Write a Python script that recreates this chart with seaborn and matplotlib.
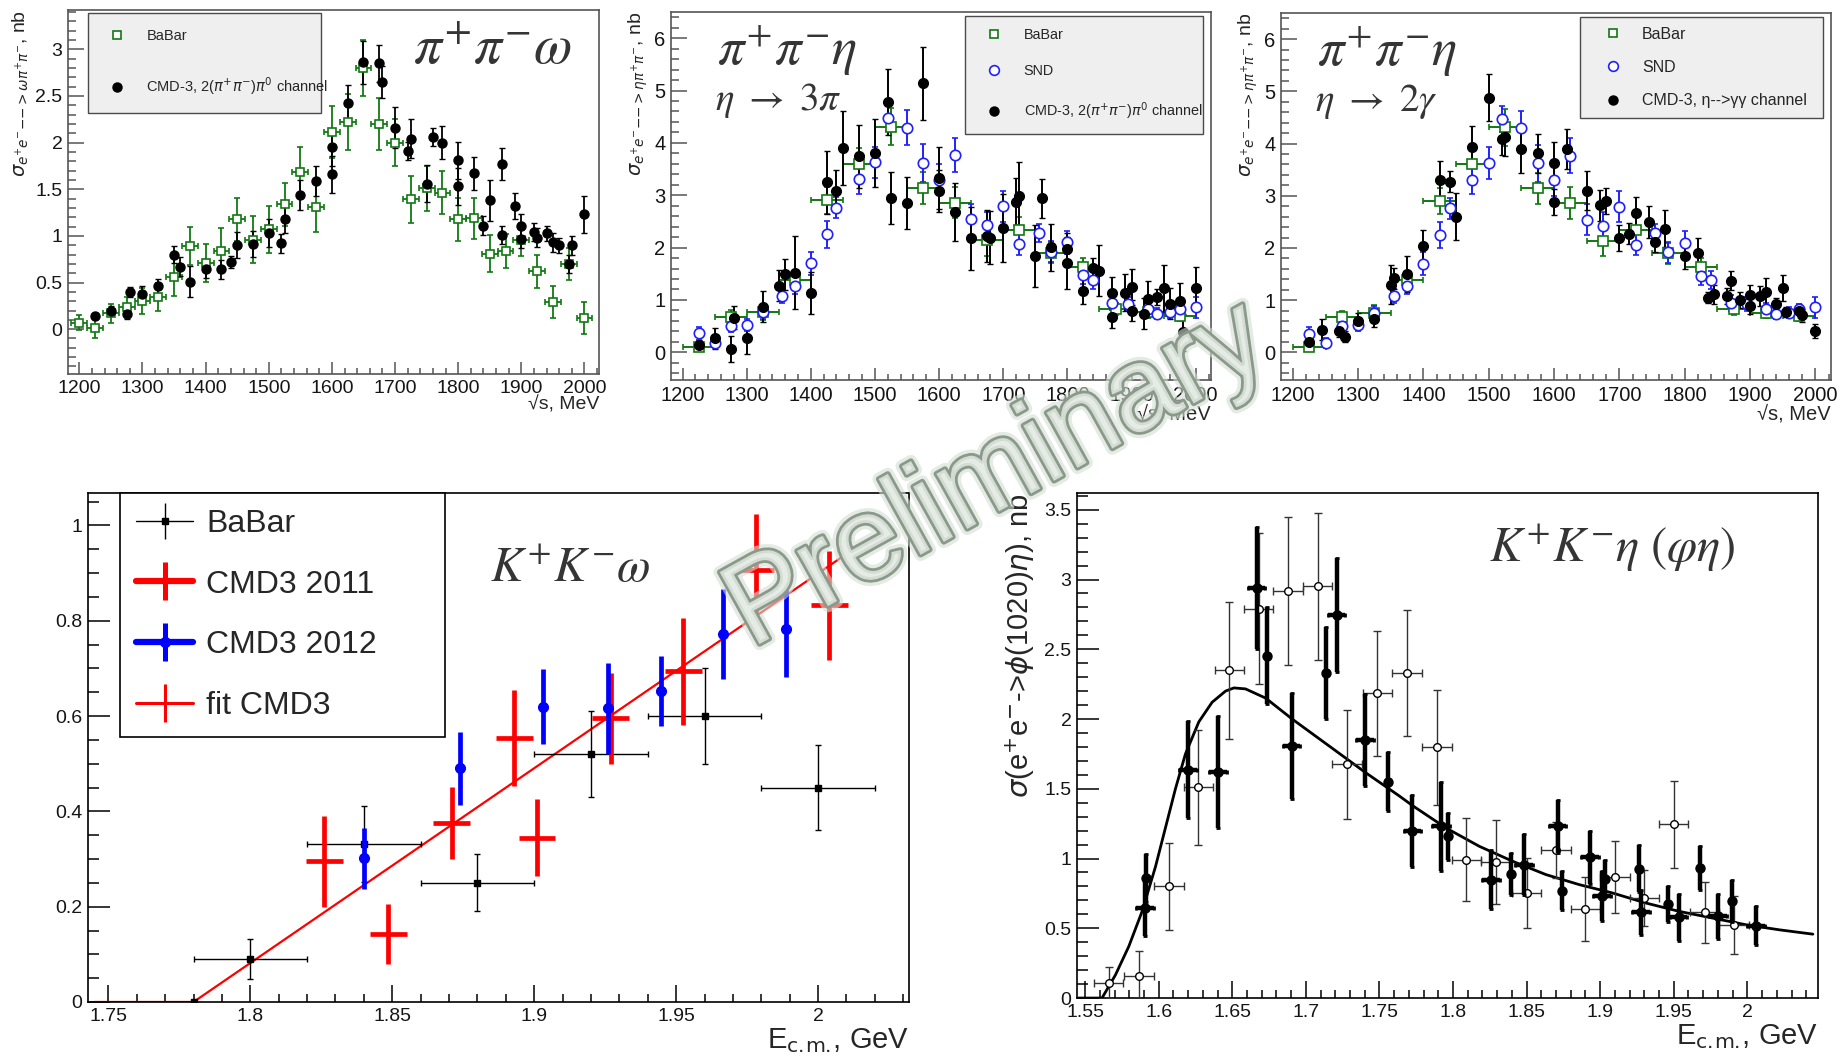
import pandas as pd
import seaborn as sns
import matplotlib.pyplot as plt
import matplotlib.patheffects as pe
from matplotlib.lines import Line2D
from matplotlib.ticker import MultipleLocator, FuncFormatter

# --- pi+ pi- omega (top left) ---
omega_babar_e = [1200, 1225, 1250, 1275, 1300, 1325, 1350, 1375, 1400, 1425, 1450, 1475, 1500, 1525, 1550, 1575, 1600,
                 1625, 1650, 1675, 1700, 1725, 1750, 1775, 1800, 1825, 1850, 1875, 1900, 1925, 1950, 1975, 2000]
omega_babar_s = [0.07, 0.01, 0.17, 0.24, 0.30, 0.34, 0.56, 0.89, 0.71, 0.84, 1.18, 0.96, 1.07, 1.34, 1.68, 1.31, 2.11,
                 2.22, 2.80, 2.20, 2.00, 1.39, 1.51, 1.46, 1.18, 1.19, 0.81, 0.84, 0.96, 0.62, 0.29, 0.70, 0.12]
omega_babar_err = [0.08, 0.1, 0.1, 0.1, 0.14, 0.15, 0.2, 0.2, 0.2, 0.24, 0.23, 0.25, 0.25, 0.23, 0.27, 0.27, 0.28,
                   0.3, 0.3, 0.28, 0.25, 0.25, 0.24, 0.23, 0.23, 0.22, 0.2, 0.18, 0.18, 0.18, 0.17, 0.17, 0.17]

cmd_e = [1225, 1250, 1275, 1280, 1300, 1325, 1350, 1360, 1375, 1400, 1425, 1440, 1450, 1475, 1500, 1520, 1525,
         1550, 1575, 1600, 1600, 1625, 1650, 1675, 1680, 1700, 1720, 1725, 1750, 1760, 1775, 1800, 1800, 1825,
         1840, 1850, 1870, 1870, 1890, 1900, 1900, 1920, 1925, 1940, 1950, 1960, 1975, 1980, 2000]
omega_cmd_s = [0.14, 0.20, 0.16, 0.40, 0.38, 0.46, 0.80, 0.67, 0.51, 0.65, 0.64, 0.72, 0.90, 0.91, 1.03, 0.92, 1.18,
               1.44, 1.59, 1.66, 1.95, 2.42, 2.86, 2.85, 2.65, 2.16, 1.91, 2.04, 1.56, 2.06, 2.00, 1.81, 1.53, 1.67,
               1.11, 1.38, 1.77, 1.01, 1.32, 1.11, 0.97, 1.04, 0.98, 1.03, 0.93, 0.90, 0.70, 0.90, 1.23]
omega_cmd_err = [0.03, 0.05, 0.05, 0.05, 0.08, 0.08, 0.09, 0.1, 0.17, 0.1, 0.1, 0.06, 0.14, 0.14, 0.15, 0.1, 0.15,
                 0.16, 0.16, 0.2, 0.2, 0.2, 0.23, 0.2, 0.17, 0.22, 0.1, 0.21, 0.2, 0.1, 0.18, 0.2, 0.2, 0.18,
                 0.1, 0.22, 0.17, 0.1, 0.14, 0.12, 0.1, 0.1, 0.1, 0.08, 0.1, 0.08, 0.1, 0.1, 0.2]

# --- pi+ pi- eta: BaBar and SND (shared by both top right panels) ---
eta_babar_e = [1225, 1275, 1325, 1375, 1425, 1475, 1525, 1575, 1625, 1675, 1725, 1775, 1825, 1875, 1925, 1975]
eta_babar_s = [0.11, 0.68, 0.76, 1.39, 2.90, 3.60, 4.31, 3.14, 2.86, 2.14, 2.34, 1.90, 1.63, 0.83, 0.76, 0.70]
eta_babar_err = [0.05, 0.12, 0.15, 0.15, 0.25, 0.3, 0.35, 0.3, 0.3, 0.3, 0.25, 0.2, 0.18, 0.12, 0.1, 0.1]

snd_e = [1225, 1250, 1275, 1300, 1325, 1355, 1375, 1400, 1425, 1440, 1475, 1500, 1520, 1550, 1575, 1600, 1625,
         1650, 1675, 1700, 1725, 1755, 1775, 1800, 1825, 1840, 1870, 1895, 1925, 1940, 1960, 1975, 2000]
snd_s = [0.36, 0.18, 0.50, 0.52, 0.76, 1.08, 1.27, 1.70, 2.25, 2.76, 3.31, 3.63, 4.47, 4.29, 3.62, 3.30, 3.77,
         2.54, 2.43, 2.79, 2.06, 2.28, 1.92, 2.10, 1.47, 1.38, 0.95, 0.93, 0.83, 0.74, 0.76, 0.83, 0.86]
snd_err = [0.12, 0.1, 0.12, 0.12, 0.12, 0.13, 0.15, 0.22, 0.25, 0.2, 0.28, 0.3, 0.25, 0.33, 0.36, 0.3, 0.33,
           0.3, 0.25, 0.3, 0.2, 0.18, 0.2, 0.22, 0.17, 0.17, 0.15, 0.13, 0.12, 0.1, 0.1, 0.1, 0.2]

# CMD-3, eta -> 3pi
eta3pi_s = [0.14, 0.27, 0.06, 0.66, 0.27, 0.87, 1.27, 1.49, 1.52, 1.14, 3.25, 3.09, 3.90, 3.74, 3.81, 4.79, 2.95,
            2.85, 5.14, 3.33, 3.08, 2.68, 2.18, 2.22, 2.19, 2.38, 2.88, 2.98, 1.84, 2.94, 2.01, 1.97, 1.70, 1.17,
            1.61, 1.56, 1.14, 0.67, 1.14, 1.25, 0.79, 0.74, 1.02, 1.05, 1.22, 0.93, 0.98, 0.38, 1.22]
eta3pi_err = [0.1, 0.2, 0.25, 0.22, 0.3, 0.3, 0.3, 0.3, 0.7, 0.4, 0.6, 0.4, 0.7, 0.6, 0.65, 0.63, 0.5,
              0.5, 0.7, 0.6, 0.4, 0.55, 0.6, 0.5, 0.5, 0.65, 0.45, 0.65, 0.6, 0.37, 0.45, 0.3, 0.5, 0.25,
              0.2, 0.48, 0.3, 0.2, 0.35, 0.35, 0.2, 0.3, 0.35, 0.15, 0.45, 0.3, 0.35, 0.35, 0.4]

# CMD-3, eta -> gamma gamma
eta2g_e = [1225, 1245, 1270, 1280, 1300, 1325, 1350, 1355, 1375, 1400, 1425, 1440, 1450, 1475, 1500, 1520,
           1525, 1550, 1575, 1600, 1600, 1620, 1650, 1670, 1680, 1700, 1715, 1725, 1745, 1755, 1770, 1800,
           1820, 1835, 1845, 1870, 1865, 1885, 1900, 1900, 1915, 1925, 1940, 1950, 1955, 1975, 1980, 2000]
eta2g_s = [0.19, 0.43, 0.40, 0.30, 0.61, 0.64, 1.30, 1.42, 1.50, 2.04, 3.31, 3.27, 2.60, 3.94, 4.88, 4.08,
           4.12, 3.89, 3.81, 2.88, 3.63, 3.89, 3.10, 2.82, 2.90, 2.19, 2.27, 2.67, 2.50, 2.12, 2.37, 1.84,
           1.90, 1.05, 1.11, 1.37, 1.08, 1.00, 1.10, 0.89, 1.08, 1.15, 0.93, 1.24, 0.77, 0.80, 0.71, 0.41]
eta2g_err = [0.05, 0.2, 0.1, 0.1, 0.15, 0.15, 0.38, 0.2, 0.35, 0.3, 0.35, 0.2, 0.45, 0.4, 0.45, 0.3,
             0.35, 0.45, 0.37, 0.25, 0.4, 0.38, 0.37, 0.3, 0.25, 0.25, 0.2, 0.3, 0.3, 0.2, 0.35, 0.25,
             0.3, 0.1, 0.18, 0.18, 0.15, 0.15, 0.2, 0.15, 0.2, 0.27, 0.12, 0.25, 0.1, 0.13, 0.13, 0.13]

# --- K+ K- omega (bottom left) ---
kkw_babar_e = [1.78, 1.80, 1.84, 1.88, 1.92, 1.96, 2.00]
kkw_babar_s = [0.0, 0.091, 0.331, 0.25, 0.52, 0.60, 0.45]
kkw_babar_err = [0.0, 0.042, 0.08, 0.06, 0.09, 0.10, 0.09]
kkw_babar_xerr = [0.0, 0.02, 0.02, 0.02, 0.02, 0.02, 0.02]
kkw_2011_e = [1.826, 1.8486, 1.871, 1.893, 1.901, 1.927, 1.9525, 1.978, 2.004]
kkw_2011_s = [0.295, 0.143, 0.376, 0.554, 0.345, 0.595, 0.694, 0.906, 0.832]
kkw_2011_err = [0.095, 0.063, 0.076, 0.10, 0.08, 0.096, 0.112, 0.117, 0.115]
kkw_2012_e = [1.840, 1.874, 1.903, 1.926, 1.9446, 1.9665, 1.9886]
kkw_2012_s = [0.302, 0.49, 0.62, 0.616, 0.653, 0.772, 0.782]
kkw_2012_err = [0.064, 0.077, 0.078, 0.096, 0.073, 0.094, 0.10]
kkw_fit_e = [1.745, 1.78, 2.008]
kkw_fit_s = [0.0, 0.0, 0.932]

# --- K+ K- eta (phi eta) (bottom right) ---
kke_babar_e = [1.566, 1.5865, 1.607, 1.627, 1.648, 1.668, 1.688, 1.708, 1.728, 1.7486, 1.7686, 1.789, 1.809,
               1.829, 1.850, 1.870, 1.890, 1.910, 1.930, 1.950, 1.971, 1.991]
kke_babar_s = [0.11, 0.158, 0.80, 1.51, 2.35, 2.79, 2.92, 2.95, 1.676, 2.184, 2.328, 1.796, 0.993,
               0.973, 0.753, 1.06, 0.64, 0.868, 0.717, 1.245, 0.614, 0.525]
kke_babar_err = [0.11, 0.18, 0.31, 0.41, 0.49, 0.54, 0.53, 0.53, 0.39, 0.45, 0.45, 0.41, 0.30,
                 0.30, 0.25, 0.2, 0.23, 0.26, 0.2, 0.31, 0.22, 0.21]
kke_cmd_a_e = [1.5906, 1.6199, 1.6403, 1.6665, 1.6903, 1.7209, 1.74, 1.7724, 1.7917, 1.826, 1.8484, 1.871,
               1.893, 1.9012, 1.9277, 1.9533, 1.9799, 2.006]
kke_cmd_a_s = [0.645, 1.637, 1.62, 2.94, 1.81, 2.745, 1.851, 1.196, 1.232, 0.849, 0.957, 1.232,
               1.009, 0.729, 0.614, 0.578, 0.585, 0.52]
kke_cmd_a_err = [0.2, 0.35, 0.4, 0.44, 0.38, 0.41, 0.33, 0.26, 0.32, 0.21, 0.22, 0.19,
                 0.19, 0.18, 0.16, 0.17, 0.16, 0.14]
kke_cmd_b_e = [1.5914, 1.6735, 1.7139, 1.756, 1.7969, 1.8397, 1.874, 1.9035, 1.9266, 1.9458, 1.9679, 1.9897]
kke_cmd_b_s = [0.86, 2.455, 2.328, 1.551, 1.16, 0.889, 0.77, 0.856, 0.928, 0.674, 0.933, 0.693]
kke_cmd_b_err = [0.17, 0.35, 0.33, 0.21, 0.17, 0.15, 0.14, 0.13, 0.17, 0.13, 0.16, 0.15]
kke_fit_e = [1.545, 1.5615, 1.5706, 1.5797, 1.5887, 1.5978, 1.6046, 1.6114, 1.6182, 1.6273, 1.6363, 1.6454,
             1.6511, 1.659, 1.6727, 1.6907, 1.718, 1.7407, 1.7633, 1.7724, 1.7951, 1.8178, 1.8404, 1.8631,
             1.8858, 1.9084, 1.9311, 1.9538, 1.9765, 1.9992, 2.0218, 2.0445]
kke_fit_s = [0.0, 0.0, 0.165, 0.37, 0.62, 0.94, 1.22, 1.50, 1.75, 1.98, 2.12, 2.20,
             2.223, 2.216, 2.15, 2.0, 1.79, 1.615, 1.45, 1.38, 1.22, 1.088, 0.981, 0.885,
             0.813, 0.753, 0.681, 0.621, 0.573, 0.525, 0.489, 0.458]

sns.set_theme(style='ticks')
plt.rcParams['font.family'] = ['Liberation Sans', 'DejaVu Sans']
plt.rcParams['mathtext.fontset'] = 'dejavusans'

GREEN = '#127812'
BLUE = '#2020ff'
fig = plt.figure(figsize=(18.47, 10.63), dpi=100)
fmt_g = FuncFormatter(lambda v, p: '0' if abs(v) < 1e-9 else f'{round(v, 6):g}')


def root_axes(rect, xlim, ylim, xstep, ystep, xlen, ylen, frame, size):
    ax = fig.add_axes(rect)
    ax.set_xlim(xlim)
    ax.set_ylim(ylim)
    ax.xaxis.set_major_locator(MultipleLocator(xstep[0]))
    ax.xaxis.set_minor_locator(MultipleLocator(xstep[1]))
    ax.yaxis.set_major_locator(MultipleLocator(ystep[0]))
    ax.yaxis.set_minor_locator(MultipleLocator(ystep[1]))
    ax.xaxis.set_major_formatter(fmt_g)
    ax.yaxis.set_major_formatter(fmt_g)
    ax.tick_params(which='both', direction='in', top=False, right=False, color=frame,
                   labelcolor='#151515', labelsize=size, width=1.1, pad=4)
    ax.tick_params(axis='x', which='major', length=xlen)
    ax.tick_params(axis='x', which='minor', length=xlen * 0.5)
    ax.tick_params(axis='y', which='major', length=ylen)
    ax.tick_params(axis='y', which='minor', length=ylen * 0.5)
    for sp in ax.spines.values():
        sp.set_visible(True)
        sp.set_color(frame)
        sp.set_linewidth(1.2)
    return ax


def small_legend(ax, handles, labels, bbox, fs, spacing, pad, hlen, tpad):
    leg = ax.legend(handles, labels, loc='upper left', bbox_to_anchor=bbox, mode='expand',
                    borderaxespad=0, fontsize=fs, labelspacing=spacing, borderpad=pad,
                    handlelength=hlen, handletextpad=tpad, fancybox=False, framealpha=1,
                    facecolor='#efefef', edgecolor='#4a4a4a')
    leg.get_frame().set_linewidth(1.0)
    return leg


sq = dict(ls='none', marker='s', mfc='white', mec=GREEN, ms=6, mew=1.2)
cir = dict(ls='none', marker='o', mfc='white', mec=BLUE, ms=7, mew=1.2)
dot = dict(ls='none', marker='o', color='black', ms=6.5)
ecm_label = r'E$_{\mathrm{c.\!m.\!}}$, GeV'

# ---------------- panel 1 ----------------
ax1 = root_axes([0.0368, 0.6482, 0.2875, 0.3424], (1182, 2023), (-0.48, 3.42), (100, 20), (0.5, 0.1),
                8.5, 11.5, '#555555', 14)
ax1.errorbar(omega_babar_e, omega_babar_s, yerr=omega_babar_err, xerr=12.5, fmt='s', color=GREEN, mfc='white',
             mec=GREEN, ms=6, mew=1.2, elinewidth=1.3, capsize=2)
ax1.errorbar(cmd_e, omega_cmd_s, yerr=omega_cmd_err, fmt='o', color='black', ms=6.5, elinewidth=1.3, capsize=2)
ax1.set_xlabel('√s, MeV', loc='right', fontsize=14, labelpad=0)
ax1.set_ylabel(r'$\sigma_{e^{+}e^{-}{-}{-}{>}\omega\pi^{+}\pi^{-}}$, nb', loc='top', fontsize=14, labelpad=3)
ax1.text(0.80, 0.89, r'$\pi^{+}\pi^{-}\omega$', transform=ax1.transAxes, ha='center', va='center',
         fontsize=40, color='#353535', math_fontfamily='stix')
small_legend(ax1, [Line2D([], [], **sq), Line2D([], [], **dot)],
             ['BaBar', r'CMD-3, 2($\pi^{+}\pi^{-}$)$\pi^{0}$ channel'],
             (0.038, 0.992, 0.438, 0), 10.5, 2.2, 1.1, 1.8, 1.1)

# ---------------- panels 2 and 3 ----------------
eta_panels = [
    ([0.3633, 0.6425, 0.2924, 0.3462], eta3pi_s, eta3pi_err, cmd_e, r'$\eta\ \rightarrow\ 3\pi$',
     r'CMD-3, 2($\pi^{+}\pi^{-}$)$\pi^{0}$ channel', 0.085, 10.4, (1.55, 0.8, 2.4, 0.87)),
    ([0.6936, 0.6425, 0.2978, 0.3452], eta2g_s, eta2g_err, eta2g_e, r'$\eta\ \rightarrow\ 2\gamma$',
     'CMD-3, η-->γγ channel', 0.066, 11.5, (1.15, 0.6, 2.9, 0.35)),
]
for rect, cmd_s, cmd_err, e_vals, decay, cmd_label, tx, lfs, lpar in eta_panels:
    ax = root_axes(rect, (1182, 2024), (-0.53, 6.5), (100, 20), (1, 0.2), 8.5, 11.5, '#555555', 14.5)
    ax.errorbar(eta_babar_e, eta_babar_s, yerr=eta_babar_err, xerr=25, fmt='s', color=GREEN, mfc='white',
                mec=GREEN, ms=7, mew=1.2, elinewidth=1.4, capsize=2)
    ax.errorbar(snd_e, snd_s, yerr=snd_err, fmt='o', color=BLUE, mfc='white', mec=BLUE, ms=7.5, mew=1.2,
                elinewidth=1.4, capsize=2)
    df = pd.DataFrame({'e': e_vals, 's': cmd_s, 'err': cmd_err})
    ax.errorbar(df['e'], df['s'], yerr=df['err'], fmt='o', color='black', ms=7, elinewidth=1.4, capsize=2)
    ax.set_xlabel('√s, MeV', loc='right', fontsize=14.5, labelpad=0)
    ax.set_ylabel(r'$\sigma_{e^{+}e^{-}{-}{-}{>}\eta\pi^{+}\pi^{-}}$, nb', loc='top', fontsize=14, labelpad=3)
    ax.text(tx, 0.895, r'$\pi^{+}\pi^{-}\eta$', transform=ax.transAxes, ha='left', va='center',
            fontsize=38, color='#353535', math_fontfamily='stix')
    ax.text(tx - 0.004, 0.76, decay, transform=ax.transAxes, ha='left', va='center',
            fontsize=28, color='#353535', math_fontfamily='stix')
    small_legend(ax, [Line2D([], [], **sq), Line2D([], [], **cir), Line2D([], [], **dot)],
                 ['BaBar', 'SND', cmd_label], (0.544, 0.989, 0.441, 0), lfs, *lpar)

# ---------------- panel 4 ----------------
ax4 = root_axes([0.0476, 0.0574, 0.4445, 0.4788], (1.7428, 2.032), (0, 1.068), (0.05, 0.01), (0.2, 0.05),
                12, 16, 'black', 14)
sns.lineplot(x=kkw_fit_e, y=kkw_fit_s, ax=ax4, color='red', lw=1.6, zorder=2)
ax4.errorbar(kkw_babar_e, kkw_babar_s, yerr=kkw_babar_err, xerr=kkw_babar_xerr, fmt='s', color='black',
             ms=4.5, elinewidth=1.0, capsize=2, zorder=3)
ax4.errorbar(kkw_2011_e, kkw_2011_s, yerr=kkw_2011_err, xerr=0.0065, fmt='none', ecolor='red',
             elinewidth=3.4, capsize=0, zorder=4)
ax4.errorbar(kkw_2012_e, kkw_2012_s, yerr=kkw_2012_err, fmt='o', color='blue', ms=7,
             elinewidth=3.4, capsize=0, zorder=4)
ax4.set_xlabel(ecm_label, loc='right', fontsize=21, labelpad=1)
ax4.text(0.588, 0.849, r'$K^{+}K^{-}\omega$', transform=ax4.transAxes, ha='center', va='center',
         fontsize=35, color='#353535', math_fontfamily='stix')
h4 = [(Line2D([], [], color='black', lw=1, marker='|', ms=26, mew=1),
       Line2D([], [], ls='none', marker='s', ms=5, color='black')),
      Line2D([], [], color='red', lw=4.5, marker='|', ms=27, mew=3.6),
      (Line2D([], [], color='blue', lw=4.5, marker='|', ms=27, mew=3.6),
       Line2D([], [], ls='none', marker='o', ms=7, color='blue')),
      Line2D([], [], color='red', lw=2.2, marker='|', ms=27, mew=2.2)]
leg4 = ax4.legend(h4, ['BaBar', 'CMD3 2011', 'CMD3 2012', 'fit CMD3'], loc='upper left',
                  bbox_to_anchor=(0.039, 1.0, 0.396, 0), mode='expand', borderaxespad=0, fontsize=23,
                  labelspacing=0.96, borderpad=0.5, handlelength=1.8, handletextpad=0.4,
                  fancybox=False, framealpha=1, facecolor='white', edgecolor='black')
leg4.get_frame().set_linewidth(1.2)

# ---------------- panel 5 ----------------
ax5 = root_axes([0.5831, 0.0611, 0.4012, 0.4751], (1.5445, 2.048), (0, 3.62), (0.05, 0.01), (0.5, 0.1),
                12, 16, 'black', 14)
sns.lineplot(x=kke_fit_e, y=kke_fit_s, ax=ax5, color='black', lw=2.0, zorder=2)
ax5.errorbar(kke_babar_e, kke_babar_s, yerr=kke_babar_err, xerr=0.01, fmt='o', color='#333333', mfc='white',
             mec='black', ms=5.5, mew=1.0, elinewidth=1.0, capsize=3, zorder=3)
ax5.errorbar(kke_cmd_a_e, kke_cmd_a_s, yerr=kke_cmd_a_err, xerr=0.006, fmt='o', color='black', ms=6.5,
             elinewidth=3.2, capsize=1.5, capthick=2, zorder=4)
ax5.errorbar(kke_cmd_b_e, kke_cmd_b_s, yerr=kke_cmd_b_err, fmt='o', color='black', ms=6.5,
             elinewidth=3.2, capsize=1.5, capthick=2, zorder=4)
ax5.set_xlabel(ecm_label, loc='right', fontsize=21, labelpad=1)
ax5.set_ylabel(r'$\sigma$(e$^{+}$e$^{-}$->$\phi$(1020)$\eta$), nb', loc='top', fontsize=21, labelpad=5)
ax5.text(0.722, 0.891, r'$K^{+}K^{-}\eta\ (\varphi\eta)$', transform=ax5.transAxes, ha='center',
         va='center', fontsize=35, color='#353535', math_fontfamily='stix')

# watermark
fig.text(0.540, 0.551, 'Preliminary', rotation=29, rotation_mode='anchor', ha='center', va='center',
         fontsize=86, color=(0.90, 0.93, 0.90, 0.8),
         path_effects=[pe.Stroke(linewidth=9, foreground='#d3ddd3', alpha=0.6),
                       pe.Stroke(linewidth=4, foreground='#8a998a'), pe.Normal()])

fig.savefig('out.png', dpi=100, facecolor='white')
